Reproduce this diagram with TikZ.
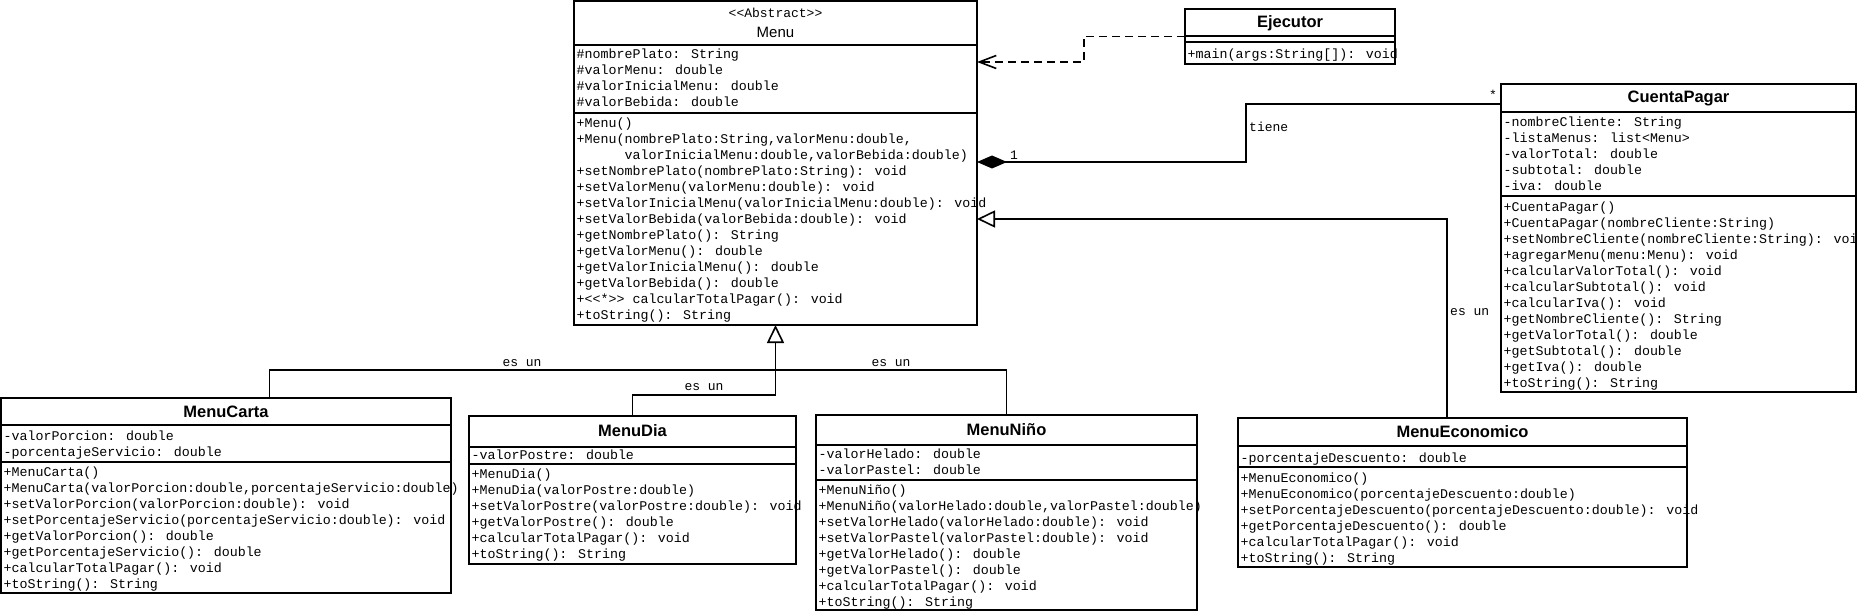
\documentclass[tikz,border=0pt]{standalone}
\usepackage{fontspec}
\setmainfont{Liberation Sans}
\newfontfamily\monofont{Liberation Mono}
\usetikzlibrary{arrows.meta}

\begin{document}
\begin{tikzpicture}[x=1pt, y=-1pt,
    classbox/.style={draw, line width=2pt, anchor=north west, inner sep=0pt, outer sep=0pt},
    classname/.style={font=\fontsize{16.5}{18}\selectfont\bfseries, inner sep=0pt},
    members/.style={font=\monofont\fontsize{13.3}{16}\selectfont, align=left, anchor=north west, inner sep=0pt},
    relabel/.style={font=\monofont\fontsize{13}{14}\selectfont, inner sep=0pt},
    divider/.style={line width=2pt},
    conn/.style={line width=1.6pt},
    inherit/.style={conn, -{Triangle[open, length=18pt, width=17pt]}},
    compos/.style={conn, {Diamond[length=30pt, width=13pt]}-},
    depend/.style={conn, dash pattern=on 8pt off 5pt, -{Straight Barb[length=17pt, width=13pt]}}
  ]

        \useasboundingbox (0,0) rectangle (1858,612);

        % Abstract class Menu
        \node[classbox, minimum width=403pt, minimum height=324pt] (menu) at (574,1) {};
        \draw[divider] ([yshift=-44pt]menu.north west) -- ([yshift=-44pt]menu.north east);
        \draw[divider] ([yshift=-112pt]menu.north west) -- ([yshift=-112pt]menu.north east);
        \node[relabel] (menuS) at ([yshift=-12pt]menu.north) {<<Abstract>>};
        \node[font=\fontsize{15}{17}\selectfont, inner sep=0pt] (menuN) at ([yshift=-31pt]menu.north) {Menu};
        \node[members] (menuA) at ([xshift=2.5pt, yshift=-48pt]menu.north west) {\#nombrePlato: String\\\#valorMenu: double\\\#valorInicialMenu: double\\\#valorBebida: double};
        \node[members] (menuM) at ([xshift=2.5pt, yshift=-117pt]menu.north west) {+Menu()\\+Menu(nombrePlato:String,valorMenu:double,\\\phantom{123456}valorInicialMenu:double,valorBebida:double)\\+setNombrePlato(nombrePlato:String): void\\+setValorMenu(valorMenu:double): void\\+setValorInicialMenu(valorInicialMenu:double): void\\+setValorBebida(valorBebida:double): void\\+getNombrePlato(): String\\+getValorMenu(): double\\+getValorInicialMenu(): double\\+getValorBebida(): double\\+<<*>> calcularTotalPagar(): void\\+toString(): String};

        % Ejecutor
        \node[classbox, minimum width=210pt, minimum height=55pt] (ejec) at (1185,9) {};
        \draw[divider] ([yshift=-27pt]ejec.north west) -- ([yshift=-27pt]ejec.north east);
        \draw[divider] ([yshift=-33pt]ejec.north west) -- ([yshift=-33pt]ejec.north east);
        \node[classname] (ejecN) at ([yshift=-14pt]ejec.north) {Ejecutor};
        \node[members] (ejecM) at ([xshift=2.5pt, yshift=-40pt]ejec.north west) {+main(args:String[]): void};

        % CuentaPagar
        \node[classbox, minimum width=355pt, minimum height=308pt] (cuenta) at (1501,84) {};
        \draw[divider] ([yshift=-28pt]cuenta.north west) -- ([yshift=-28pt]cuenta.north east);
        \draw[divider] ([yshift=-112pt]cuenta.north west) -- ([yshift=-112pt]cuenta.north east);
        \node[classname] (cuentaN) at ([yshift=-14pt]cuenta.north) {CuentaPagar};
        \node[members] (cuentaA) at ([xshift=2.5pt, yshift=-33pt]cuenta.north west) {-nombreCliente: String\\-listaMenus: list<Menu>\\-valorTotal: double\\-subtotal: double\\-iva: double};
        \node[members] (cuentaM) at ([xshift=2.5pt, yshift=-118pt]cuenta.north west) {+CuentaPagar()\\+CuentaPagar(nombreCliente:String)\\+setNombreCliente(nombreCliente:String): void\\+agregarMenu(menu:Menu): void\\+calcularValorTotal(): void\\+calcularSubtotal(): void\\+calcularIva(): void\\+getNombreCliente(): String\\+getValorTotal(): double\\+getSubtotal(): double\\+getIva(): double\\+toString(): String};

        % MenuCarta
        \node[classbox, minimum width=450pt, minimum height=195pt] (carta) at (1,398) {};
        \draw[divider] ([yshift=-27pt]carta.north west) -- ([yshift=-27pt]carta.north east);
        \draw[divider] ([yshift=-64pt]carta.north west) -- ([yshift=-64pt]carta.north east);
        \node[classname] (cartaN) at ([yshift=-14pt]carta.north) {MenuCarta};
        \node[members] (cartaA) at ([xshift=2.5pt, yshift=-32.5pt]carta.north west) {-valorPorcion: double\\-porcentajeServicio: double};
        \node[members] (cartaM) at ([xshift=2.5pt, yshift=-69pt]carta.north west) {+MenuCarta()\\+MenuCarta(valorPorcion:double,porcentajeServicio:double)\\+setValorPorcion(valorPorcion:double): void\\+setPorcentajeServicio(porcentajeServicio:double): void\\+getValorPorcion(): double\\+getPorcentajeServicio(): double\\+calcularTotalPagar(): void\\+toString(): String};

        % MenuDia
        \node[classbox, minimum width=327pt, minimum height=148pt] (dia) at (469,416) {};
        \draw[divider] ([yshift=-31pt]dia.north west) -- ([yshift=-31pt]dia.north east);
        \draw[divider] ([yshift=-48pt]dia.north west) -- ([yshift=-48pt]dia.north east);
        \node[classname] (diaN) at ([yshift=-15pt]dia.north) {MenuDia};
        \node[members] (diaA) at ([xshift=2.5pt, yshift=-33.5pt]dia.north west) {-valorPostre: double};
        \node[members] (diaM) at ([xshift=2.5pt, yshift=-53pt]dia.north west) {+MenuDia()\\+MenuDia(valorPostre:double)\\+setValorPostre(valorPostre:double): void\\+getValorPostre(): double\\+calcularTotalPagar(): void\\+toString(): String};

        % MenuNiño
        \node[classbox, minimum width=381pt, minimum height=195pt] (nino) at (816,415) {};
        \draw[divider] ([yshift=-30pt]nino.north west) -- ([yshift=-30pt]nino.north east);
        \draw[divider] ([yshift=-65pt]nino.north west) -- ([yshift=-65pt]nino.north east);
        \node[classname] (ninoN) at ([yshift=-15pt]nino.north) {MenuNiño};
        \node[members] (ninoA) at ([xshift=2.5pt, yshift=-33.5pt]nino.north west) {-valorHelado: double\\-valorPastel: double};
        \node[members] (ninoM) at ([xshift=2.5pt, yshift=-70pt]nino.north west) {+MenuNiño()\\+MenuNiño(valorHelado:double,valorPastel:double)\\+setValorHelado(valorHelado:double): void\\+setValorPastel(valorPastel:double): void\\+getValorHelado(): double\\+getValorPastel(): double\\+calcularTotalPagar(): void\\+toString(): String};

        % MenuEconomico
        \node[classbox, minimum width=449pt, minimum height=149pt] (econ) at (1238,418) {};
        \draw[divider] ([yshift=-28pt]econ.north west) -- ([yshift=-28pt]econ.north east);
        \draw[divider] ([yshift=-49pt]econ.north west) -- ([yshift=-49pt]econ.north east);
        \node[classname] (econN) at ([yshift=-14pt]econ.north) {MenuEconomico};
        \node[members] (econA) at ([xshift=2.5pt, yshift=-34.5pt]econ.north west) {-porcentajeDescuento: double};
        \node[members] (econM) at ([xshift=2.5pt, yshift=-55pt]econ.north west) {+MenuEconomico()\\+MenuEconomico(porcentajeDescuento:double)\\+setPorcentajeDescuento(porcentajeDescuento:double): void\\+getPorcentajeDescuento(): double\\+calcularTotalPagar(): void\\+toString(): String};

        % Relations
        \draw[depend] (ejec.west) -- ++(-101,0) |- ([yshift=-61pt]menu.north east);

        \draw[compos] ([yshift=-161pt]menu.north east) -| ([xshift=-255pt, yshift=-20pt]cuenta.north west) -- ([yshift=-20pt]cuenta.north west);
        \node[relabel] (one) at (1014,155) {1};
        \node[relabel, anchor=west] (tiene) at (1249,127) {tiene};
        \node[relabel] (many) at (1493,95) {*};

        \draw[inherit] ([xshift=-15.5pt]econ.north) |- ([yshift=-218pt]menu.north east);
        \node[relabel, anchor=west] (esunE) at (1450,312) {es un};

        \coordinate (jdia) at (775.5,395);
        \coordinate (jtop) at (775.5,370);
        \draw[inherit] (dia.north) |- (jdia) -- (menu.south);
        \draw[conn] ([xshift=43.5pt]carta.north) |- (jtop);
        \draw[conn] (nino.north) |- (jtop);
        \node[relabel] (esunC) at (522,363) {es un};
        \node[relabel] (esunN) at (891,363) {es un};
        \node[relabel] (esunD) at (704,387) {es un};

\end{tikzpicture}
\end{document}
